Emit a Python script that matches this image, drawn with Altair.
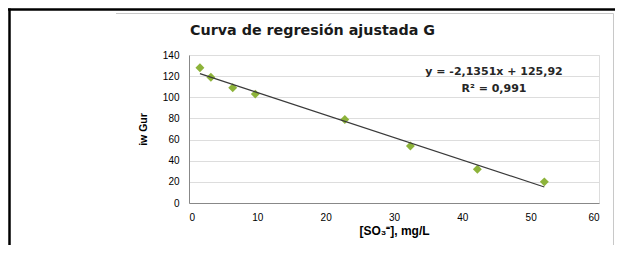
import altair as alt
import pandas as pd

# Data
so3_mg_l = [1.6, 3.2, 6.4, 9.7, 22.8, 32.4, 42.2, 52.0]
iw_gur = [128, 119, 109, 103, 79, 54, 32, 20]
x_ticks = [0, 10, 20, 30, 40, 50, 60]
y_ticks = [0, 20, 40, 60, 80, 100, 120, 140]
equation = "y = -2,1351x + 125,92"
r_squared = "R² = 0,991"
title_text = "Curva de regresión ajustada G"
x_title = "[SO₃⁼], mg/L"
y_title = "iw Gur"

df = pd.DataFrame({"x": so3_mg_l, "y": iw_gur})
one = pd.DataFrame({"k": [0]})

FONT = "DejaVu Sans"
LABEL_COLOR = "#404040"

xs = alt.Scale(domain=[0, 60], nice=False, zero=False)
ys = alt.Scale(domain=[0, 140], nice=False, zero=False)

x_axis = alt.Axis(values=x_ticks, title=x_title, grid=False, ticks=False,
                  labelPadding=9, titlePadding=3, format="d", labelOverlap=False,
                  titleFontSize=12)
y_axis = alt.Axis(values=y_ticks, title=y_title, grid=True, ticks=False,
                  labelPadding=10, titlePadding=14, format="d", labelOverlap=False,
                  titleFontSize=10.5)

points = alt.Chart(df).mark_point(
    shape="diamond", filled=True, size=80, color="#8db33a", opacity=1
).encode(
    x=alt.X("x:Q", scale=xs, axis=x_axis),
    y=alt.Y("y:Q", scale=ys, axis=y_axis),
)

trend = alt.Chart(df).transform_regression("x", "y").mark_line(
    color="#3a3a3a", strokeWidth=1.2
).encode(
    x=alt.X("x:Q", scale=xs, axis=x_axis),
    y=alt.Y("y:Q", scale=ys, axis=y_axis),
)

title = alt.Chart(one).mark_text(
    text=title_text, font=FONT, fontSize=14.3, fontWeight="bold", color="#1a1a1a",
    align="left", baseline="middle"
).encode(x=alt.value(1), y=alt.value(-24))

eq1 = alt.Chart(one).mark_text(
    text=equation, font=FONT, fontSize=11, fontWeight="bold", color="#262626",
    align="center", baseline="middle"
).encode(x=alt.value(305), y=alt.value(17))
eq2 = alt.Chart(one).mark_text(
    text=r_squared, font=FONT, fontSize=11, fontWeight="bold", color="#262626",
    align="center", baseline="middle"
).encode(x=alt.value(305), y=alt.value(34))

# page frame (document table border and chart border)
black_top = alt.Chart(one).mark_rule(color="#000000", strokeWidth=2.5).encode(
    x=alt.value(-181), x2=alt.value(430), y=alt.value(-45.5))
black_left = alt.Chart(one).mark_rule(color="#000000", strokeWidth=2.5).encode(
    x=alt.value(-179.5), y=alt.value(-46.5), y2=alt.value(200))
gray_top = alt.Chart(one).mark_rule(color="#c8c8c8", strokeWidth=1).encode(
    x=alt.value(-73), x2=alt.value(424.5), y=alt.value(-41.5))
gray_right = alt.Chart(one).mark_rule(color="#c8c8c8", strokeWidth=1).encode(
    x=alt.value(424.5), y=alt.value(-41.5), y2=alt.value(200))

chart = alt.layer(
    black_top, black_left, gray_top, gray_right, points, trend, title, eq1, eq2
).properties(
    width=410,
    height=148,
    autosize="none",
    padding={"left": 181, "top": 47, "right": 16, "bottom": 42},
).configure_view(
    stroke=None
).configure_axis(
    domainColor="#a6a6a6",
    gridColor="#bfbfbf",
    gridWidth=1,
    labelFont=FONT,
    labelFontSize=10,
    labelFontWeight="bold",
    labelColor=LABEL_COLOR,
    titleFont=FONT,
    titleFontWeight="bold",
    titleColor="#1a1a1a",
).configure(background="white")

chart.save("out.html", embed_options={"renderer": "svg", "actions": False})
